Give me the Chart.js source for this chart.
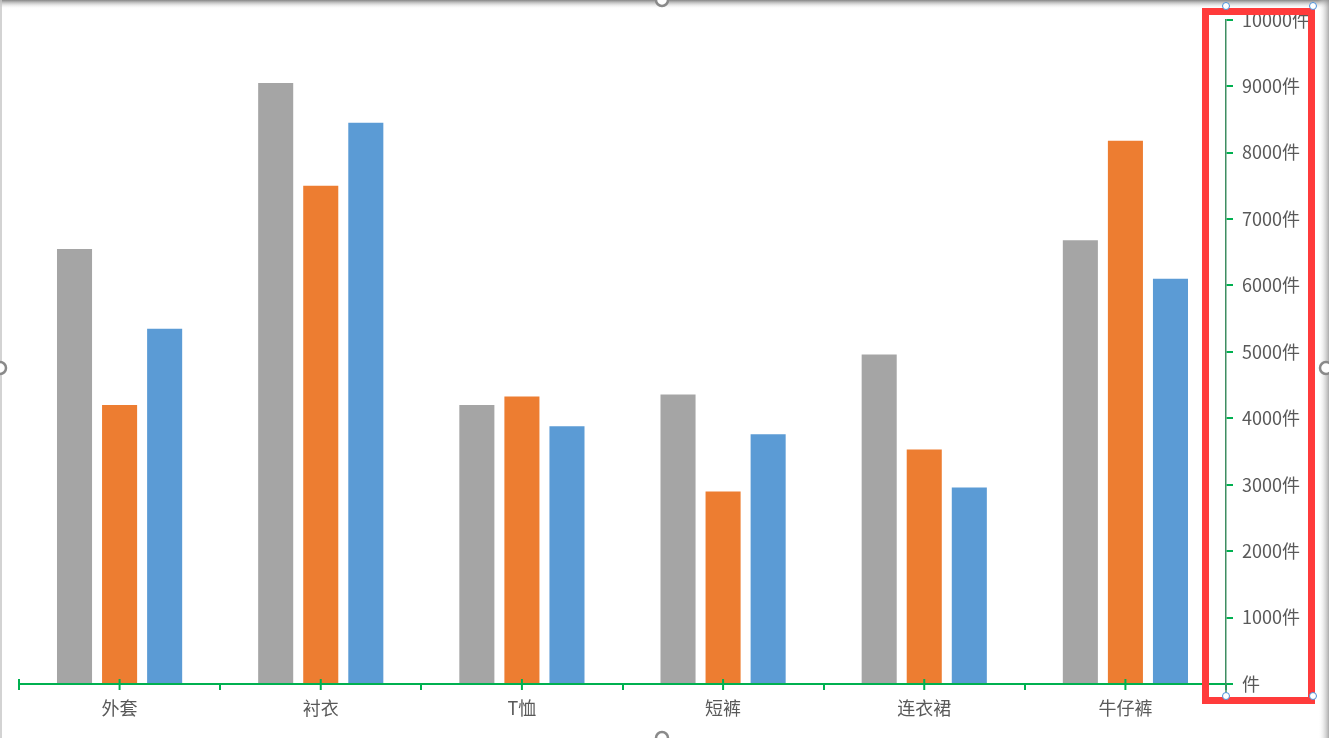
<!DOCTYPE html>
<html>
<head>
<meta charset="utf-8">
<script src="https://cdn.jsdelivr.net/npm/chart.js@4/dist/chart.umd.min.js"></script>
<style>
    body { margin: 0; background: #fff; }
    #wrap { width: 1329px; height: 738px; position: relative; }
</style>
</head>
<body>
<div id="wrap"><canvas id="chart_clothes"></canvas></div>
<script>
const categories = ['外套', '衬衣', 'T恤', '短裤', '连衣裙', '牛仔裤'];
const seriesGray = [6550, 9050, 4200, 4360, 4960, 6680];
const seriesOrange = [4200, 7500, 4330, 2900, 3530, 8180];
const seriesBlue = [5350, 8450, 3880, 3760, 2960, 6100];
const unit = '件';

const fontFamily = '"Noto Sans CJK SC", "Noto Sans", sans-serif';

// marcas verdes en el centro de cada categoria + marco de la seleccion
const decorations = {
    id: 'decorations',
    afterDraw(chart) {
        const ctx = chart.ctx;
        const x = chart.scales.x;
        const y = chart.scales.y;
        const base = y.getPixelForValue(0);

        ctx.save();
        ctx.strokeStyle = '#00B050';
        ctx.lineWidth = 2;
        for (let i = 0; i < categories.length; i++) {
            const px = x.getPixelForTick(i);
            ctx.beginPath();
            ctx.moveTo(px, base - 5);
            ctx.lineTo(px, base + 6);
            ctx.stroke();
        }
        ctx.beginPath();
        ctx.moveTo(x.left, base - 5);
        ctx.lineTo(x.left, base);
        ctx.stroke();

        // linea del eje y hasta abajo
        ctx.strokeStyle = '#3F8E62';
        ctx.lineWidth = 1.5;
        ctx.beginPath();
        ctx.moveTo(y.left, base);
        ctx.lineTo(y.left, base + 12);
        ctx.stroke();

        // sombras del borde
        const W = chart.width, H = chart.height;
        let g = ctx.createLinearGradient(0, 0, 0, 9);
        g.addColorStop(0, 'rgba(120,120,120,0.9)');
        g.addColorStop(1, 'rgba(255,255,255,0)');
        ctx.fillStyle = g;
        ctx.fillRect(0, 0, W, 9);
        g = ctx.createLinearGradient(W - 11, 0, W, 0);
        g.addColorStop(0, 'rgba(255,255,255,0)');
        g.addColorStop(1, 'rgba(150,150,150,0.8)');
        ctx.fillStyle = g;
        ctx.fillRect(W - 11, 0, 11, H);
        ctx.fillStyle = 'rgba(200,200,200,0.8)';
        ctx.fillRect(0, 0, 2, H);

        // rectangulo rojo
        ctx.strokeStyle = '#FF3B3B';
        ctx.lineWidth = 7;
        ctx.strokeRect(1205.5, 11.5, 106, 689);

        // manijas
        const handles = [[662, 0], [0, 368], [1326, 368], [662, 738]];
        ctx.lineWidth = 2.5;
        ctx.strokeStyle = '#8a8a8a';
        ctx.fillStyle = '#fff';
        handles.forEach(h => {
            ctx.beginPath();
            ctx.arc(h[0], h[1], 6, 0, Math.PI * 2);
            ctx.fill();
            ctx.stroke();
        });
        const small = [[1226, 6], [1313, 6], [1226, 696], [1313, 696]];
        ctx.lineWidth = 1;
        ctx.strokeStyle = '#4a8fd8';
        small.forEach(h => {
            ctx.beginPath();
            ctx.arc(h[0], h[1], 3.5, 0, Math.PI * 2);
            ctx.fill();
            ctx.stroke();
        });
        ctx.restore();
    }
};

new Chart(document.querySelector('#chart_clothes'), {
    type: 'bar',
    data: {
        labels: categories,
        datasets: [{
            label: '系列1',
            data: seriesGray,
            backgroundColor: '#A5A5A5'
        }, {
            label: '系列2',
            data: seriesOrange,
            backgroundColor: '#ED7D31'
        }, {
            label: '系列3',
            data: seriesBlue,
            backgroundColor: '#5B9BD5'
        }]
    },
    options: {
        responsive: true,
        maintainAspectRatio: false,
        animation: false,
        categoryPercentage: 0.672,
        barPercentage: 0.778,
        layout: {
            padding: { left: 19, top: 19, right: 0, bottom: 0 }
        },
        plugins: {
            legend: { display: false },
            tooltip: { enabled: false }
        },
        scales: {
            x: {
                afterFit: scale => { scale.height = 54; },
                border: { color: '#00B050', width: 2 },
                grid: {
                    drawOnChartArea: false,
                    color: '#00B050',
                    lineWidth: 2,
                    tickLength: 6
                },
                ticks: {
                    color: '#595959',
                    padding: 7,
                    font: { family: fontFamily, size: 18 }
                }
            },
            y: {
                position: 'right',
                min: 0,
                max: 10000,
                afterFit: scale => { scale.width = 103; },
                border: { color: '#3F8E62', width: 1.5 },
                grid: {
                    drawOnChartArea: false,
                    color: '#00B050',
                    lineWidth: 2,
                    tickLength: 7
                },
                ticks: {
                    stepSize: 1000,
                    color: '#595959',
                    padding: 9,
                    font: { family: fontFamily, size: 18 },
                    callback: v => (v === 0 ? '' : v) + unit
                }
            }
        }
    },
    plugins: [decorations]
});
</script>
</body>
</html>
